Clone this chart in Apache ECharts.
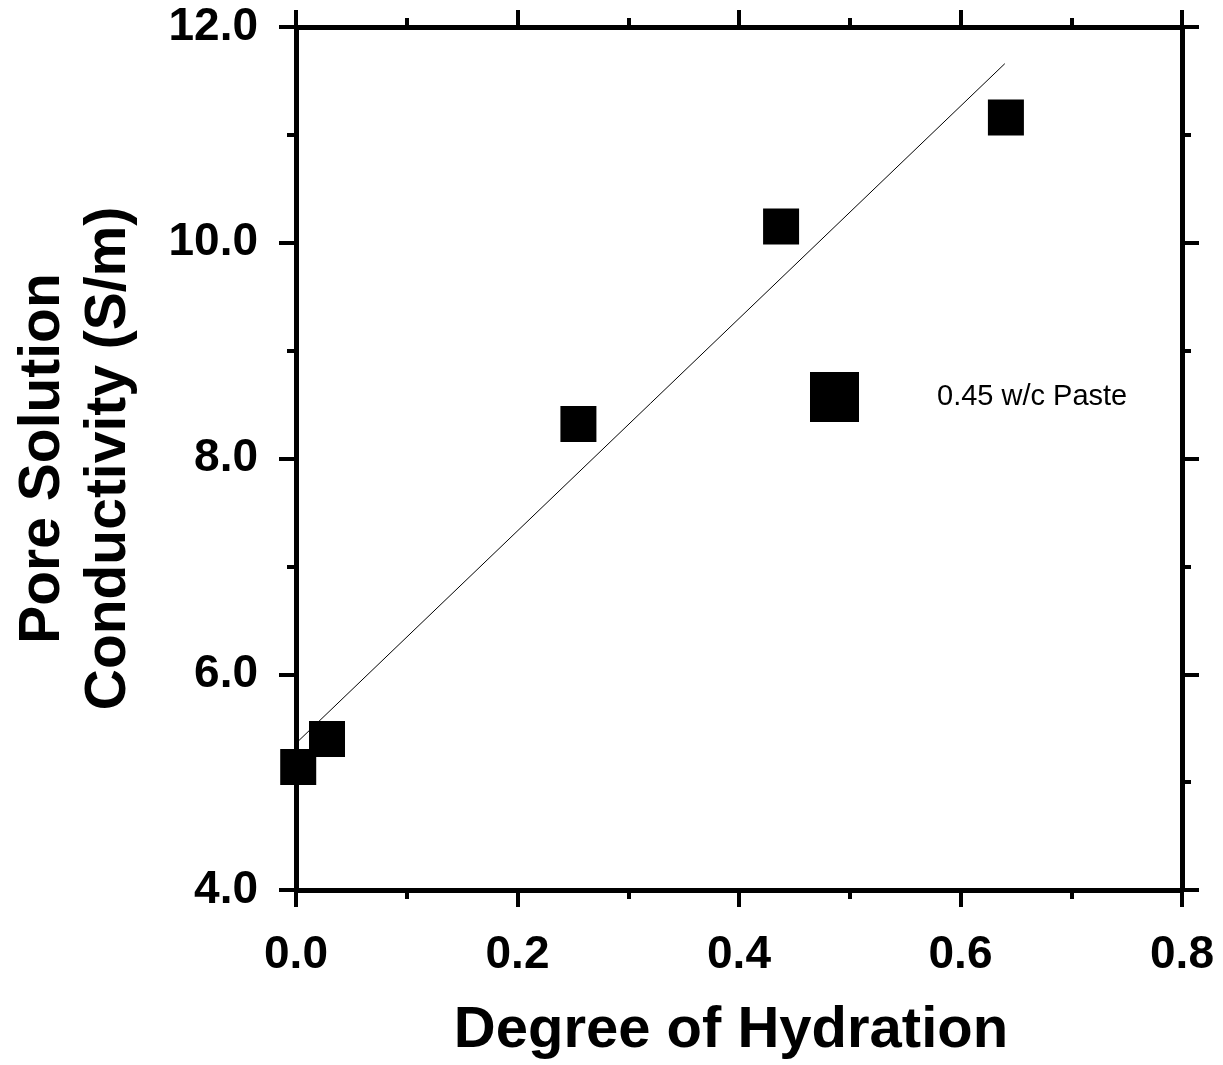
<!DOCTYPE html>
<html>
<head>
<meta charset="utf-8">
<script src="https://cdn.jsdelivr.net/npm/echarts@6/dist/echarts.min.js"></script>
<style>
html,body{margin:0;padding:0;background:#fff;}
#chart{width:1223px;height:1065px;}
</style>
</head>
<body>
<div id="chart"></div>
<script>
// Data
const seriesName = '0.45 w/c Paste';
const hydration = [0.002, 0.028, 0.255, 0.438, 0.641];
const conductivity = [5.14, 5.40, 8.32, 10.15, 11.16];
const fitX = [0.0, 0.64];
const fitY = [5.36, 11.66];
const xTitle = 'Degree of Hydration';
const yTitle = 'Pore Solution\nConductivity (S/m)';

const FONT = '"Liberation Sans", Arial, Helvetica, sans-serif';

const points = hydration.map((x, i) => [x, conductivity[i]]);
const fitLine = fitX.map((x, i) => [x, fitY[i]]);

const axisCommon = {
  type: 'value',
  splitLine: { show: false },
  axisLine: { show: true, onZero: false, lineStyle: { color: '#000', width: 5 } },
  axisTick: { show: true, inside: false, length: 17, lineStyle: { color: '#000', width: 4 } },
  minorTick: { show: true, splitNumber: 2, length: 9, lineStyle: { color: '#000', width: 4 } },
  minorSplitLine: { show: false }
};

const chart = echarts.init(document.getElementById('chart'), null, { renderer: 'canvas' });
chart.setOption({
  animation: false,
  backgroundColor: '#fff',
  grid: { left: 296, right: 41, top: 27, bottom: 171, containLabel: false },
  legend: {
    data: [seriesName],
    left: 810, top: 372,
    padding: 0,
    icon: 'rect',
    itemWidth: 49, itemHeight: 50,
    itemStyle: { opacity: 1 },
    textStyle: { fontFamily: FONT, fontSize: 29, color: '#000', padding: [0, 0, 4, 73] }
  },
  xAxis: [
    Object.assign({}, axisCommon, {
      position: 'bottom', min: 0, max: 0.8, interval: 0.2,
      axisLabel: { show: true, margin: 42, fontFamily: FONT, fontSize: 46, fontWeight: 'bold', color: '#000',
        formatter: v => v.toFixed(1) },
      name: xTitle, nameLocation: 'middle', nameGap: 112,
      nameTextStyle: { fontFamily: FONT, fontSize: 58, fontWeight: 'bold', color: '#000', padding: [0, 16, 0, 0] }
    }),
    Object.assign({}, axisCommon, {
      position: 'top', min: 0, max: 0.8, interval: 0.2,
      axisLabel: { show: false }
    })
  ],
  yAxis: [
    Object.assign({}, axisCommon, {
      position: 'left', min: 4, max: 12, interval: 2,
      axisLabel: { show: true, margin: 38, fontFamily: FONT, fontSize: 46, fontWeight: 'bold', color: '#000',
        formatter: v => v.toFixed(1) },
      name: yTitle, nameLocation: 'middle', nameGap: 154,
      nameTextStyle: { fontFamily: FONT, fontSize: 57, fontWeight: 'bold', color: '#000', lineHeight: 66, align: 'center' }
    }),
    Object.assign({}, axisCommon, {
      position: 'right', min: 4, max: 12, interval: 2,
      axisLabel: { show: false }
    })
  ],
  series: [
    {
      type: 'line',
      name: 'fit',
      data: fitLine,
      xAxisIndex: 0, yAxisIndex: 0,
      symbol: 'none',
      lineStyle: { color: '#000', width: 1 },
      silent: true
    },
    {
      type: 'scatter',
      name: seriesName,
      data: points,
      xAxisIndex: 0, yAxisIndex: 0,
      symbol: 'rect',
      symbolSize: 36,
      itemStyle: { color: '#000', opacity: 1 }
    }
  ]
});
</script>
</body>
</html>
